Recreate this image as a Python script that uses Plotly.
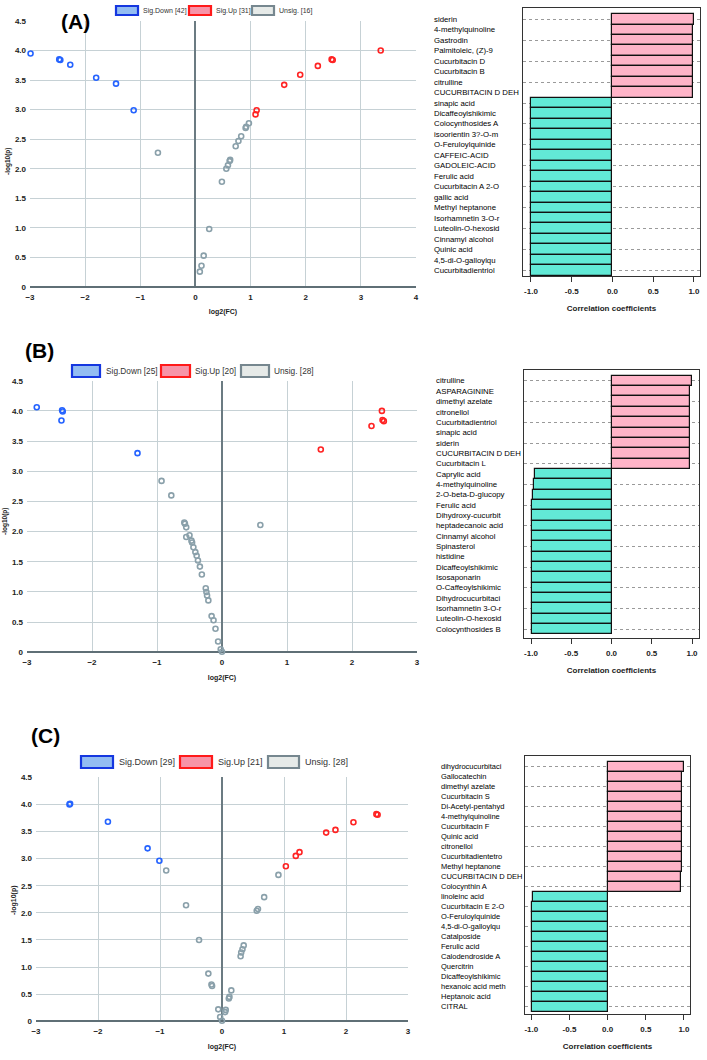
import plotly.graph_objects as go

# === Data ===

# (A) volcano
a_down_x = [-2.99, -2.47, -2.45, -2.27, -1.80, -1.44, -1.12]
a_down_y = [3.95, 3.85, 3.84, 3.76, 3.54, 3.44, 2.99]
a_up_x = [1.09, 1.11, 1.61, 1.90, 2.22, 2.47, 2.49, 3.36]
a_up_y = [2.92, 2.99, 3.42, 3.59, 3.74, 3.85, 3.84, 4.00]
a_ns_x = [-0.68, 0.97, 0.92, 0.91, 0.83, 0.78, 0.73, 0.63, 0.62, 0.59, 0.56,
          0.48, 0.25, 0.15, 0.11, 0.08]
a_ns_y = [2.27, 2.77, 2.71, 2.69, 2.55, 2.47, 2.38, 2.15, 2.13, 2.06, 2.00,
          1.78, 0.98, 0.53, 0.36, 0.26]

# (B) volcano
b_down_x = [-2.85, -2.46, -2.45, -2.47, -1.30]
b_down_y = [4.06, 4.01, 3.99, 3.84, 3.30]
b_up_x = [2.46, 2.47, 2.49, 2.30, 1.52]
b_up_y = [4.00, 3.85, 3.83, 3.75, 3.36]
b_ns_x = [-0.93, -0.78, -0.58, -0.57, -0.55, -0.50, -0.55, -0.47, -0.46,
          -0.44, -0.41, -0.39, -0.37, -0.34, -0.31, -0.25, -0.24, -0.23,
          -0.21, -0.16, -0.13, -0.10, -0.06, -0.02, 0.00, 0.59]
b_ns_y = [2.84, 2.60, 2.15, 2.13, 2.07, 1.94, 1.91, 1.85, 1.82,
          1.74, 1.66, 1.60, 1.52, 1.42, 1.29, 1.06, 1.00, 0.94,
          0.86, 0.60, 0.53, 0.39, 0.18, 0.05, 0.01, 2.11]

# (C) volcano
c_down_x = [-2.46, -2.45, -1.84, -1.20, -1.01]
c_down_y = [4.00, 4.01, 3.68, 3.19, 2.96]
c_up_x = [1.03, 1.19, 1.25, 1.68, 1.83, 2.12, 2.49, 2.51]
c_up_y = [2.86, 3.05, 3.12, 3.48, 3.53, 3.67, 3.82, 3.81]
c_ns_x = [-0.90, -0.58, -0.37, -0.22, -0.17, -0.16, -0.06, -0.03, 0.00, 0.05,
          0.06, 0.11, 0.12, 0.15, 0.30, 0.31, 0.33, 0.35, 0.56, 0.58, 0.68, 0.91]
c_ns_y = [2.78, 2.14, 1.50, 0.88, 0.68, 0.65, 0.22, 0.08, 0.01, 0.17,
          0.21, 0.42, 0.45, 0.57, 1.20, 1.27, 1.33, 1.40, 2.04, 2.07, 2.29, 2.70]

legend_names = ["Sig.Down", "Sig.Up", "Unsig."]
a_counts = [42, 31, 16]
b_counts = [25, 20, 28]
c_counts = [29, 21, 28]

x_ticks_a = [-3, -2, -1, 0, 1, 2, 3, 4]
x_ticks_bc = [-3, -2, -1, 0, 1, 2, 3]
y_ticks = [0, 0.5, 1.0, 1.5, 2.0, 2.5, 3.0, 3.5, 4.0, 4.5]
y_tick_text = ["0", "0.5", "1.0", "1.5", "2.0", "2.5", "3.0", "3.5", "4.0", "4.5"]

# correlation bars
a_names = ["siderin", "4-methylquinoline", "Gastrodin", "Palmitoleic, (Z)-9",
           "Cucurbitacin D", "Cucurbitacin B", "citrulline", "CUCURBITACIN D DEH",
           "sinapic acid", "Dicaffeoylshikimic", "Colocynthosides A",
           "isoorientin 3?-O-m", "O-Feruloylquinide", "CAFFEIC-ACID",
           "GADOLEIC-ACID", "Ferulic acid", "Cucurbitacin A 2-O", "gallic acid",
           "Methyl heptanone", "Isorhamnetin 3-O-r", "Luteolin-O-hexosid",
           "Cinnamyl alcohol", "Quinic acid", "4,5-di-O-galloylqu",
           "Cucurbitadientriol"]
a_corr = [0.996, 0.99, 0.99, 0.99, 0.99, 0.99, 0.99, 0.99,
          -0.995, -0.995, -0.995, -0.995, -0.995, -0.995, -0.995, -0.995,
          -0.995, -0.995, -0.995, -0.995, -0.995, -0.995, -0.995, -0.995, -0.995]

b_names = ["citrulline", "ASPARAGININE", "dimethyl azelate", "citronellol",
           "Cucurbitadientriol", "sinapic acid", "siderin", "CUCURBITACIN D DEH",
           "Cucurbitacin L", "Caprylic acid", "4-methylquinoline",
           "2-O-beta-D-glucopy", "Ferulic acid", "Dihydroxy-cucurbit",
           "heptadecanoic acid", "Cinnamyl alcohol", "Spinasterol", "histidine",
           "Dicaffeoylshikimic", "Isosaponarin", "O-Caffeoylshikimic",
           "Dihydrocucurbitaci", "Isorhamnetin 3-O-r", "Luteolin-O-hexosid",
           "Colocynthosides B"]
b_corr = [0.997, 0.98, 0.98, 0.975, 0.975, 0.975, 0.975, 0.98, 0.97,
          -0.955, -0.967, -0.98, -0.988, -0.99, -0.99, -0.99, -0.99, -0.99,
          -0.99, -0.99, -0.99, -0.99, -0.99, -0.99, -0.99]

c_names = ["dihydrocucurbitaci", "Gallocatechin", "dimethyl azelate",
           "Cucurbitacin S", "Di-Acetyl-pentahyd", "4-methylquinoline",
           "Cucurbitacin F", "Quinic acid", "citronellol", "Cucurbitadientetro",
           "Methyl heptanone", "CUCURBITACIN D DEH", "Colocynthin A",
           "linoleinc acid", "Cucurbitacin E 2-O", "O-Feruloylquinide",
           "4,5-di-O-galloylqu", "Catalposide", "Ferulic acid",
           "Calodendroside A", "Quercitrin", "Dicaffeoylshikimic",
           "hexanoic acid meth", "Heptanoic acid", "CITRAL"]
c_corr = [0.995, 0.98, 0.98, 0.98, 0.98, 0.98, 0.98, 0.98, 0.98, 0.98, 0.97,
          0.965, 0.965,
          -0.98, -0.99, -0.99, -0.99, -0.99, -0.99, -0.99, -0.99, -0.99,
          -0.99, -0.99, -0.99]

corr_ticks = [-1.0, -0.5, 0.0, 0.5, 1.0]
corr_tick_text = ["-1.0", "-0.5", "0.0", "0.5", "1.0"]

# === Styles ===

W, H = 707, 1060
BLUE, RED, GREY = "#2563ff", "#ff2323", "#8aa0aa"
LEG_LINE = ["#1537e0", "#ff1a1a", "#76878f"]
LEG_FILL = ["#93bdf2", "#f794a8", "#e6eae8"]
PINK, TEAL = "#ffb4c8", "#62e9d6"
SANS = "Liberation Sans, Arial, sans-serif"


def px_x(p):
    return p / W


def px_y(p):
    return 1 - p / H


fig = go.Figure()

volcanos = [
    ("", (a_down_x, a_down_y), (a_up_x, a_up_y), (a_ns_x, a_ns_y)),
    ("3", (b_down_x, b_down_y), (b_up_x, b_up_y), (b_ns_x, b_ns_y)),
    ("5", (c_down_x, c_down_y), (c_up_x, c_up_y), (c_ns_x, c_ns_y)),
]
for ax, down, up, ns in volcanos:
    for (xs, ys), col in [(ns, GREY), (down, BLUE), (up, RED)]:
        fig.add_trace(go.Scatter(
            x=xs, y=ys, mode="markers", showlegend=False, cliponaxis=False,
            marker=dict(symbol="circle-open", size=5, color=col,
                        line=dict(width=1.6, color=col)),
            xaxis="x" + ax, yaxis="y" + ax))

bars = [("2", a_names, a_corr), ("4", b_names, b_corr), ("6", c_names, c_corr)]
for ax, names, vals in bars:
    fig.add_trace(go.Bar(
        x=vals, y=names, orientation="h", showlegend=False,
        marker=dict(color=[PINK if v > 0 else TEAL for v in vals],
                    line=dict(color="#111111", width=1.2)),
        xaxis="x" + ax, yaxis="y" + ax))


# === Axes ===

tick_font = dict(family=SANS, size=8, color="#222222", weight="bold")


def volcano_axes(xdom, ydom, xticks):
    xa = dict(domain=[px_x(xdom[0]), px_x(xdom[1])], automargin=False,
              range=[xticks[0], xticks[-1]], tickvals=xticks,
              showgrid=True, gridcolor="#c6d1d5", gridwidth=1,
              zeroline=True, zerolinecolor="#6b7b82", zerolinewidth=1.5,
              showline=False, tickfont=tick_font, ticks="",
              ticklabelstandoff=4, ticklabeloverflow="allow",
              title=dict(text="log2(FC)", font=dict(family=SANS, size=7,
                                                     color="#222", weight="bold"),
                         standoff=8))
    ya = dict(domain=[px_y(ydom[1]), px_y(ydom[0])], automargin=False,
              range=[0, 4.5], tickvals=y_ticks, ticktext=y_tick_text,
              showgrid=True, gridcolor="#c6d1d5", gridwidth=1,
              zeroline=True, zerolinecolor="#5f6f76", zerolinewidth=2,
              showline=False, tickfont=tick_font, ticks="",
              ticklabelstandoff=3, ticklabeloverflow="allow")
    return xa, ya


def bar_axes(xdom, ydom, xrng, yrng):
    xa = dict(domain=[px_x(xdom[0]), px_x(xdom[1])], automargin=False,
              range=xrng, tickvals=corr_ticks, ticktext=corr_tick_text,
              showgrid=False, zeroline=False, showline=True, mirror=True,
              linecolor="#333333", linewidth=1, ticks="outside", ticklen=5,
              tickcolor="#333333", tickfont=tick_font,
              ticklabelstandoff=2, ticklabeloverflow="allow",
              title=dict(text="Correlation coefficients",
                         font=dict(family=SANS, size=8, color="#222",
                                   weight="bold"), standoff=10))
    ya = dict(domain=[px_y(ydom[1]), px_y(ydom[0])], automargin=False,
              range=yrng, type="category", showticklabels=False, ticks="",
              showgrid=True, gridcolor="#9a9a9a", gridwidth=1, griddash="dot",
              showline=True, mirror=True, linecolor="#333333", linewidth=1)
    return xa, ya


layout_axes = {}
for ax, xd, yd, xt in [("", (30, 416), (21, 287), x_ticks_a),
                       ("3", (27, 417), (380.7, 652.3), x_ticks_bc),
                       ("5", (36, 408), (777.3, 1021.3), x_ticks_bc)]:
    xa, ya = volcano_axes(xd, yd, xt)
    xa["anchor"] = "y" + ax
    ya["anchor"] = "x" + ax
    layout_axes["xaxis" + ax] = xa
    layout_axes["yaxis" + ax] = ya

for ax, xd, yd, xr, yr in [("2", (523, 700), (8, 276), [-1.098, 1.074], [24.52, -1.08]),
                           ("4", (524, 699), (370, 638), [-1.087, 1.087], [24.84, -1.06]),
                           ("6", (525, 690), (756, 1014), [-1.083, 1.079], [24.73, -1.07])]:
    xa, ya = bar_axes(xd, yd, xr, yr)
    xa["anchor"] = "y" + ax
    ya["anchor"] = "x" + ax
    layout_axes["xaxis" + ax] = xa
    layout_axes["yaxis" + ax] = ya


# === Annotations / legend boxes ===

annotations = []
shapes = []

# category labels, left aligned beside the bar boxes
for ax, names, lx, fs in [("2", a_names, 432, 7.8), ("4", b_names, 434, 7.8),
                          ("6", c_names, 439, 7.5)]:
    for n in names:
        annotations.append(dict(
            x=px_x(lx), xref="paper", y=n, yref="y" + ax, text=n,
            xanchor="left", yanchor="middle", showarrow=False,
            font=dict(family=SANS, size=fs, color="#000000")))

# rotated y-axis titles of the volcano plots
for tx, ty, fs in [(8, 162, 6.5), (5, 522, 6.5), (14, 900, 7)]:
    annotations.append(dict(
        x=px_x(tx), y=px_y(ty), xref="paper", yref="paper", text="-log10(p)",
        textangle=-90, xanchor="center", yanchor="middle", showarrow=False,
        font=dict(family=SANS, size=fs, color="#222", weight="bold")))

# panel letters
for lab, x0, yc in [("(A)", 59, 21), ("(B)", 23, 350), ("(C)", 29, 735)]:
    annotations.append(dict(
        x=px_x(x0), y=px_y(yc), xref="paper", yref="paper", text=lab,
        xanchor="left", yanchor="middle", showarrow=False,
        font=dict(family=SANS, size=21, color="#000", weight="bold")))

# legends: (box x0, box x1, text x) per item, centre y, box height, font size
legend_specs = [
    (a_counts, [(116, 138, 141), (189, 211, 214), (252, 274, 277)], 10.5, 9, 7),
    (b_counts, [(72, 100, 104), (161, 190, 193), (241, 269, 272)], 371, 12, 8.3),
    (c_counts, [(81, 113, 117), (180, 212, 216), (268, 299, 303)], 762, 12, 9),
]
for counts, items, yc, bh, fs in legend_specs:
    for i, (x0, x1, tx) in enumerate(items):
        shapes.append(dict(
            type="rect", xref="paper", yref="paper",
            x0=px_x(x0), x1=px_x(x1), y0=px_y(yc + bh / 2), y1=px_y(yc - bh / 2),
            fillcolor=LEG_FILL[i], line=dict(color=LEG_LINE[i], width=2.2)))
        annotations.append(dict(
            x=px_x(tx), y=px_y(yc), xref="paper", yref="paper",
            text=f"{legend_names[i]} [{counts[i]}]",
            xanchor="left", yanchor="middle", showarrow=False,
            font=dict(family=SANS, size=fs, color="#333333")))

fig.update_layout(
    width=W, height=H,
    margin=dict(l=0, r=0, t=0, b=0),
    paper_bgcolor="#FFFFFF",
    plot_bgcolor="#FFFFFF",
    bargap=0,
    hovermode=False,
    annotations=annotations,
    shapes=shapes,
    **layout_axes,
)

# drop the browser's default 8px body margin so the figure sits at (0, 0)
fig.write_html("out.html", config={"displayModeBar": False},
               post_script="document.body.style.margin = '0px';")
